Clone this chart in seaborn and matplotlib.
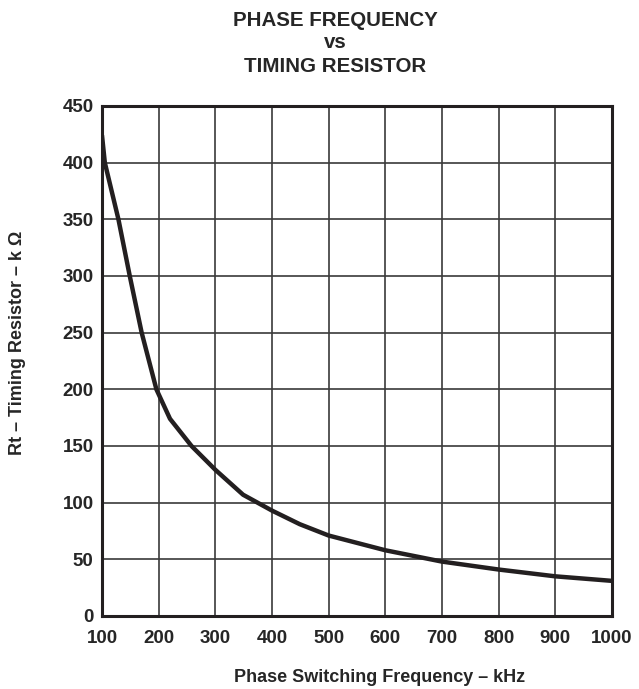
import matplotlib
matplotlib.use("Agg")
import matplotlib.pyplot as plt
import seaborn as sns
import pandas as pd

freq_khz = [100, 105, 129, 149, 170, 196, 220, 258, 300, 349, 400, 449, 500, 600, 700, 800, 900, 1000]
rt_kohm = [424, 400, 350, 300, 250, 200, 174, 150, 129, 107, 93, 81, 71, 58, 48, 41, 35, 31]
x_ticks = [100, 200, 300, 400, 500, 600, 700, 800, 900, 1000]
y_ticks = [0, 50, 100, 150, 200, 250, 300, 350, 400, 450]

sns.set_style("white")
plt.rcParams['font.family'] = ['Liberation Sans', 'DejaVu Sans']
plt.rcParams['font.weight'] = 'bold'

df = pd.DataFrame({"f": freq_khz, "rt": rt_kohm})

fig = plt.figure(figsize=(6.39, 6.89), dpi=100)
ax = fig.add_axes([102/639, 73/689, 510/639, 510/689])
sns.lineplot(data=df, x="f", y="rt", ax=ax, color="#231f20", linewidth=3.2)

ax.set_xlim(100, 1000)
ax.set_ylim(0, 450)
ax.set_xticks(x_ticks)
ax.set_yticks(y_ticks)
ax.set_xticklabels([str(v) for v in x_ticks], fontsize=13.5, fontweight='bold')
ax.set_yticklabels([str(v) for v in y_ticks], fontsize=13.5, fontweight='bold')
ax.tick_params(axis='x', length=0, pad=10)
ax.tick_params(axis='y', length=0, pad=6)
ax.grid(True, color="#3a3a3a", linewidth=1.2)
for s in ax.spines.values():
    s.set_linewidth(2.2)
    s.set_color("#231f20")

ax.set_xlabel("Phase Switching Frequency – kHz", fontsize=13, fontweight='bold')
ax.set_ylabel("Rt – Timing Resistor – k Ω", fontsize=13, fontweight='bold')
ax.xaxis.set_label_coords((380 - 102) / 510, (616 - 677) / 510)
ax.yaxis.set_label_coords((18 - 102) / 510, (616 - 343) / 510)
ax.xaxis.label.set_va('center')
ax.yaxis.label.set_va('center')

cx = 335 / 639
fig.text(cx, 1 - 20/689, "PHASE FREQUENCY", ha='center', va='center', fontsize=14.8, fontweight='bold')
fig.text(cx, 1 - 43/689, "vs", ha='center', va='center', fontsize=14.8, fontweight='bold')
fig.text(cx, 1 - 66/689, "TIMING RESISTOR", ha='center', va='center', fontsize=14.8, fontweight='bold')

fig.savefig("out.png", dpi=100)
